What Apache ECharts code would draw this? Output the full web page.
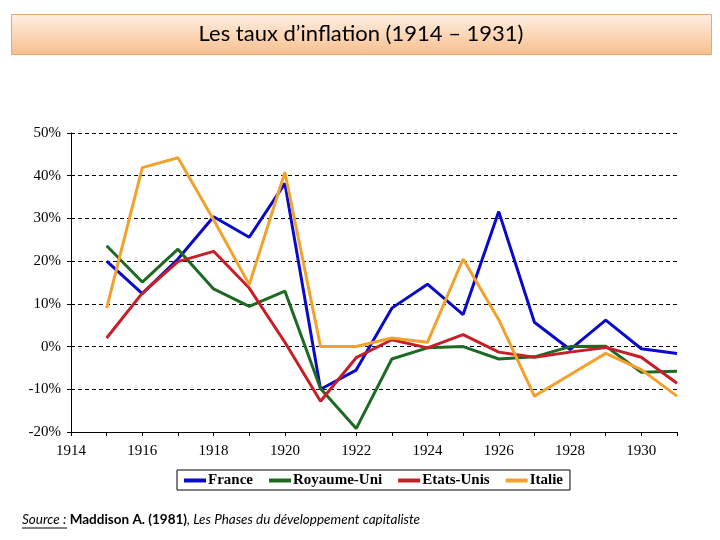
<!DOCTYPE html>
<html>
<head>
<meta charset="utf-8">
<script src="https://cdn.jsdelivr.net/npm/echarts@6/dist/echarts.min.js"></script>
<style>
html,body{margin:0;padding:0;background:#fff;}
#chart{width:720px;height:540px;}
</style>
</head>
<body>
<div id="chart"></div>
<script>
const titleText = "Les taux d\u2019inflation (1914 \u2013 1931)";
const years = [1915,1916,1917,1918,1919,1920,1921,1922,1923,1924,1925,1926,1927,1928,1929,1930,1931];
const seriesNames = ["France","Royaume-Uni","Etats-Unis","Italie"];
const france     = [20.0,12.4,20.5,30.4,25.6,38.2,-10.0,-5.5,9.0,14.6,7.5,31.6,5.7,-0.7,6.2,-0.5,-1.6];
const royaumeUni = [23.6,15.1,22.8,13.5,9.4,13.0,-9.8,-19.2,-2.9,-0.3,0.0,-2.9,-2.4,0.0,0.1,-6.0,-5.8];
const etatsUnis  = [2.0,12.5,19.9,22.3,13.7,1.0,-12.8,-2.6,1.6,-0.3,2.8,-1.3,-2.5,-1.3,-0.2,-2.5,-8.6];
const italie     = [9.0,41.9,44.2,29.7,14.5,40.8,0.0,0.0,2.0,1.0,20.5,6.3,-11.6,-6.6,-1.6,-5.4,-11.6];
const yTicks = [-20,-10,0,10,20,30,40,50];
const xLabelYears = [1914,1916,1918,1920,1922,1924,1926,1928,1930];

const colors = ["#0A0ACC","#1D6A22","#C81E28","#F2A22C"];
const values = [france, royaumeUni, etatsUnis, italie];
const serifFont = "Liberation Serif";

const chart = echarts.init(document.getElementById('chart'));
const option = {
  animation: false,
  backgroundColor: '#ffffff',
  grid: {left: 71, right: 43, top: 133, bottom: 108, containLabel: false},
  xAxis: [
    {
      type: 'value', min: 1914, max: 1931, interval: 1,
      position: 'bottom',
      axisLine: {show: false}, axisTick: {show: false}, splitLine: {show: false},
      axisLabel: {
        margin: 12, color: '#000', fontFamily: serifFont, fontSize: 15,
        showMaxLabel: false,
        formatter: v => xLabelYears.indexOf(v) >= 0 ? String(v) : ''
      }
    },
    {
      type: 'value', min: 1914, max: 1931, interval: 1,
      position: 'bottom',
      axisLine: {show: true, onZero: true, lineStyle: {color: '#000', width: 1}},
      axisTick: {show: true, inside: false, length: 4, lineStyle: {color: '#000'}},
      axisLabel: {show: false}, splitLine: {show: false}
    }
  ],
  yAxis: {
    type: 'value', min: -20, max: 50, interval: 10,
    axisLine: {show: true, lineStyle: {color: '#000', width: 1}},
    axisTick: {show: true, length: 4, lineStyle: {color: '#000'}},
    axisLabel: {
      margin: 10, color: '#000', fontFamily: serifFont, fontSize: 15,
      formatter: v => yTicks.indexOf(v) >= 0 ? v + '%' : ''
    },
    splitLine: {show: true, lineStyle: {color: '#000', type: [4,3], width: 1}}
  },
  legend: {
    left: 177, top: 470,
    padding: [3, 7, 2, 7],
    borderColor: '#000', borderWidth: 1,
    itemGap: 16, itemWidth: 22, itemHeight: 4,
    icon: 'rect',
    textStyle: {fontFamily: serifFont, fontWeight: 'bold', fontSize: 15, color: '#000', padding: [0,0,0,-3]},
    data: seriesNames
  },
  series: seriesNames.map((name, i) => ({
    name: name,
    type: 'line',
    xAxisIndex: 0,
    data: years.map((y, j) => [y, values[i][j]]),
    showSymbol: false,
    symbol: 'none',
    lineStyle: {color: colors[i], width: 3},
    itemStyle: {color: colors[i]},
    z: 2 + i
  })),
  graphic: [
    {
      type: 'rect', left: 11, top: 14,
      shape: {width: 700, height: 40},
      style: {
        fill: new echarts.graphic.LinearGradient(0, 0, 0, 1, [
          {offset: 0, color: '#FEF0E4'},
          {offset: 1, color: '#F9BE8C'}
        ]),
        stroke: '#E3A77A', lineWidth: 1
      }
    },
    {
      type: 'text', x: 361, y: 34,
      style: {
        text: titleText, fill: '#000', font: '22px Lato',
        textAlign: 'center', textVerticalAlign: 'middle'
      }
    },
    {
      type: 'text', x: 22, y: 520,
      style: {
        text: '{a|Source :} {b|Maddison A. (1981)}{c|, Les Phases du d\u00e9veloppement capitaliste}',
        textVerticalAlign: 'middle',
        rich: {
          a: {fontFamily: 'Lato', fontStyle: 'italic', fontSize: 13.5, fill: '#000', color: '#000'},
          b: {fontFamily: 'Lato', fontWeight: 'bold', fontSize: 13.5, fill: '#000', color: '#000'},
          c: {fontFamily: 'Lato', fontStyle: 'italic', fontSize: 13.5, fill: '#000', color: '#000'}
        }
      }
    },
    {
      type: 'line', shape: {x1: 22, y1: 528, x2: 67, y2: 528},
      style: {stroke: '#000', lineWidth: 1}
    }
  ]
};
chart.setOption(option);
</script>
</body>
</html>
